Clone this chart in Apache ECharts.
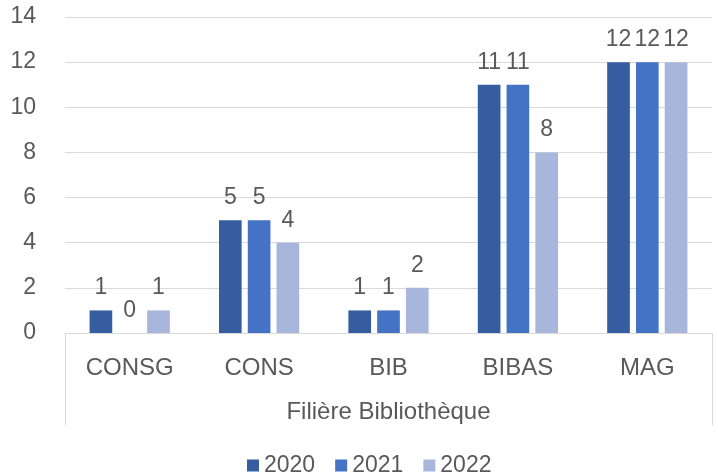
<!DOCTYPE html>
<html>
<head>
<meta charset="utf-8">
<script src="https://cdn.jsdelivr.net/npm/echarts@6/dist/echarts.min.js"></script>
<style>html,body{margin:0;padding:0;background:#fff;}#c{width:718px;height:475px;}</style>
</head>
<body>
<div id="c"></div>
<script>
const categories = ['CONSG', 'CONS', 'BIB', 'BIBAS', 'MAG'];
const groupLabel = ['Filière Bibliothèque'];
const years = ['2020', '2021', '2022'];
const values2020 = [1, 5, 1, 11, 12];
const values2021 = [0, 5, 1, 11, 12];
const values2022 = [1, 4, 2, 8, 12];
const yTicks = { min: 0, max: 14, interval: 2 };

const colors = ['#355DA0', '#4472C4', '#A8B6DB'];
const FONT = '"Liberation Sans", Arial, sans-serif';
const TXT = '#595959';
const FS = 23;
const FSC = 24;

const chart = echarts.init(document.getElementById('c'), null, { renderer: 'canvas' });
const seriesData = [values2020, values2021, values2022];
chart.setOption({
  animation: false,
  color: colors,
  textStyle: { fontFamily: FONT },
  grid: { left: 65, right: 6, top: 17, bottom: 142, containLabel: false },
  legend: {
    data: years,
    left: 242,
    top: 449,
    icon: 'rect',
    itemWidth: 12,
    itemHeight: 12,
    itemGap: 20,
    textStyle: { fontSize: FS, color: TXT, fontFamily: FONT }
  },
  xAxis: [
    {
      type: 'category',
      data: categories,
      position: 'bottom',
      axisLine: { show: true, lineStyle: { color: '#D9D9D9', width: 1 } },
      axisTick: { show: false },
      axisLabel: { margin: 23, fontSize: FSC, color: TXT, fontFamily: FONT }
    },
    {
      type: 'category',
      data: groupLabel,
      position: 'bottom',
      gridIndex: 0,
      axisLine: { show: false },
      axisTick: { show: true, length: 92, alignWithLabel: false, lineStyle: { color: '#D9D9D9', width: 1 } },
      axisLabel: { margin: 67, fontSize: FSC, color: TXT, fontFamily: FONT },
      splitLine: { show: false }
    }
  ],
  yAxis: {
    type: 'value',
    min: yTicks.min,
    max: yTicks.max,
    interval: yTicks.interval,
    axisLine: { show: false },
    axisTick: { show: false },
    axisLabel: { margin: 29, fontSize: FS, color: TXT, fontFamily: FONT },
    splitLine: { lineStyle: { color: '#D9D9D9', width: 1 } }
  },
  series: years.map((y, i) => ({
    name: y,
    type: 'bar',
    xAxisIndex: 0,
    data: seriesData[i],
    barGap: '27%',
    barCategoryGap: '38%',
    label: { show: true, position: 'top', distance: 11, fontSize: FS, color: TXT, fontFamily: FONT }
  }))
});
</script>
</body>
</html>
